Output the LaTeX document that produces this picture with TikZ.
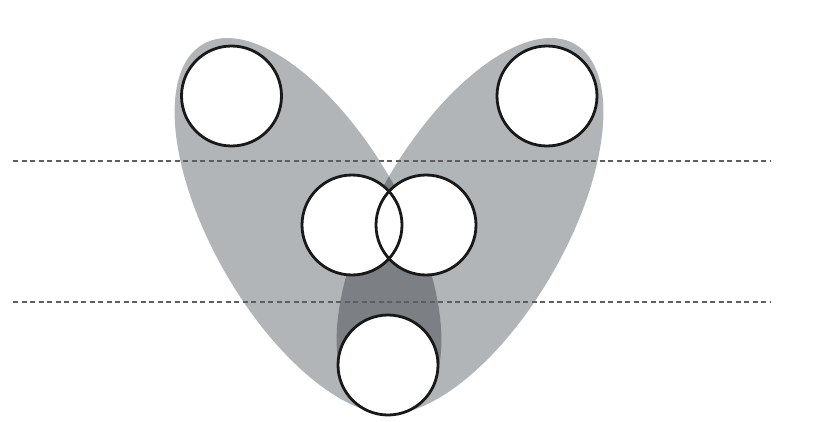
\documentclass[tikz,border=0pt]{standalone}
\usetikzlibrary{positioning}

\definecolor{leafgrey}{RGB}{177,181,184}
\definecolor{overlapgrey}{RGB}{124,127,131}
\definecolor{guidegrey}{RGB}{95,95,95}

\tikzset{
    disk/.style={circle, fill=white, minimum size=100pt, inner sep=0pt},
    rim/.style={line width=2.8pt, black!90},
    guide/.style={guidegrey, line width=1.2pt, dash pattern=on 5pt off 3.5pt}
}

\begin{document}
\begin{tikzpicture}[x=1pt, y=1pt]
    \useasboundingbox (0,0) rectangle (826,421);

    % two tilted leaves
    \fill[leafgrey, rotate around={-60:(308,195)}] (308,195) ellipse [x radius=210pt, y radius=95pt];
    \fill[leafgrey, rotate around={60:(470,195)}] (470,195) ellipse [x radius=210pt, y radius=95pt];

    % where the leaves overlap
    \begin{scope}
        \clip[rotate around={-60:(308,195)}] (308,195) ellipse [x radius=210pt, y radius=95pt];
        \fill[overlapgrey, rotate around={60:(470,195)}] (470,195) ellipse [x radius=210pt, y radius=95pt];
    \end{scope}

    % dashed levels
    \coordinate (upperL) at (13,260);
    \coordinate (upperR) at (770,260);
    \coordinate (lowerL) at (13,119);
    \coordinate (lowerR) at (770,119);
    \draw[guide] (upperL) -- (upperR);
    \draw[guide] (lowerL) -- (lowerR);

    % circles
    \node[disk] (topleft) at (231.5,325) {};
    \node[disk] (topright) at (547,325) {};
    \node[disk] (midleft) at (352,196) {};
    \node[disk] (midright) at (426,196) {};
    \node[disk] (bottom) at (388,56) {};

    \foreach \n in {topleft, topright, midleft, midright, bottom} {
        \draw[rim] (\n.center) circle [radius=50pt];
    }
\end{tikzpicture}
\end{document}
